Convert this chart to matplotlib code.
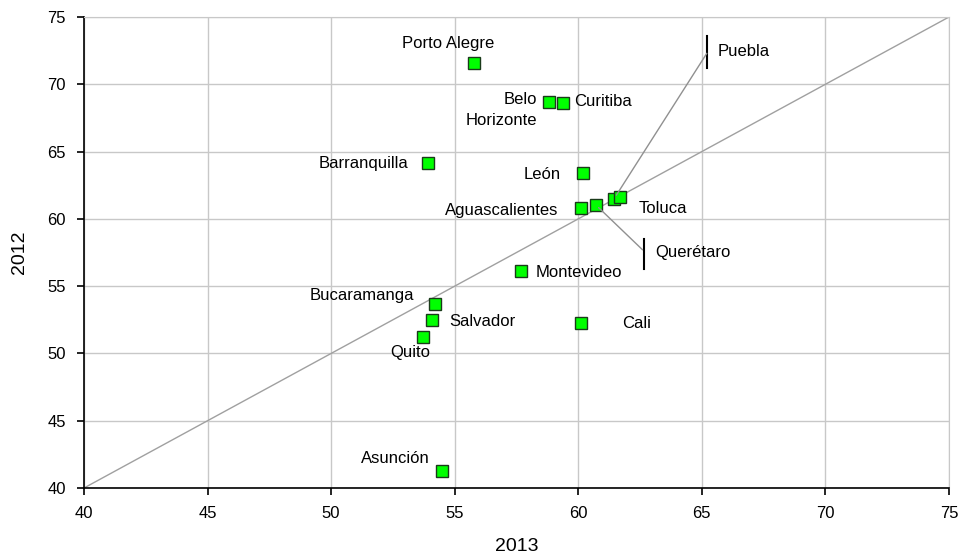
import matplotlib.pyplot as plt

plt.rcParams['font.family'] = ['Liberation Sans', 'DejaVu Sans']

# data
cities = ['Porto Alegre', 'Belo\nHorizonte', 'Curitiba', 'Barranquilla', 'León',
          'Aguascalientes', 'Querétaro', 'Puebla', 'Toluca', 'Montevideo',
          'Bucaramanga', 'Salvador', 'Quito', 'Cali', 'Asunción']
x2013 = [55.8, 58.8, 59.4, 53.9, 60.2, 60.1, 60.7, 61.45, 61.7, 57.7,
         54.2, 54.1, 53.7, 60.1, 54.5]
y2012 = [71.6, 68.7, 68.6, 64.15, 63.4, 60.8, 61.05, 61.5, 61.6, 56.1,
         53.7, 52.5, 51.2, 52.25, 41.3]

# label offsets in points (dx, dy, ha, va)
offsets = {
    'Porto Alegre': (-19, 14, 'center', 'center'),
    'Belo\nHorizonte': (-8, 7, 'right', 'top'),
    'Curitiba': (8, 1, 'left', 'center'),
    'Barranquilla': (-14, 0, 'right', 'center'),
    'León': (-16, -1, 'right', 'center'),
    'Aguascalientes': (-16, -2, 'right', 'center'),
    'Toluca': (13, -8, 'left', 'center'),
    'Montevideo': (10, -1, 'left', 'center'),
    'Bucaramanga': (-15, 6, 'right', 'center'),
    'Salvador': (12, -1, 'left', 'center'),
    'Quito': (-9, -11, 'center', 'center'),
    'Cali': (30, 0, 'left', 'center'),
    'Asunción': (-9, 9, 'right', 'center'),
}

fs = 12

fig = plt.figure(figsize=(9.62, 5.55), dpi=100)
ax = fig.add_axes([0.0873, 0.1207, 0.8992, 0.8487])

ax.set_xlim(40, 75)
ax.set_ylim(40, 75)
ax.set_xticks(range(40, 76, 5))
ax.set_yticks(range(40, 76, 5))
ax.grid(True, color='#c8c8c8', lw=1)
ax.set_axisbelow(True)
for s in ['top', 'right']:
    ax.spines[s].set_color('#c8c8c8')
for s in ['left', 'bottom']:
    ax.spines[s].set_color('black')
    ax.spines[s].set_linewidth(1.2)
ax.tick_params(direction='out', length=5, width=1.2, labelsize=12, pad=8, colors='black')
ax.set_xlabel('2013', fontsize=14, labelpad=12)
ax.set_ylabel('2012', fontsize=14, labelpad=14)

# 45 degree line
ax.plot([40, 75], [40, 75], color='#a0a0a0', lw=1, zorder=1)

ax.plot(x2013, y2012, 's', ms=8.5, mfc='#00ff00', mec='#1a3a1a', mew=1, zorder=3)

for name, x, y in zip(cities, x2013, y2012):
    if name in offsets:
        dx, dy, ha, va = offsets[name]
        ax.annotate(name, (x, y), xytext=(dx, dy), textcoords='offset points',
                    ha=ha, va=va, fontsize=fs, linespacing=1.5, zorder=4)

# leader lines for the crowded cluster
i = cities.index('Puebla')
ax.annotate('', xy=(x2013[i], y2012[i]), xytext=(65.2, 72.3),
            arrowprops=dict(arrowstyle='-', color='#909090', lw=1, shrinkA=0, shrinkB=3))
ax.plot([65.2, 65.2], [71.2, 73.6], color='black', lw=1.5)
ax.text(65.65, 72.4, 'Puebla', fontsize=fs, va='center')

i = cities.index('Querétaro')
ax.annotate('', xy=(x2013[i], y2012[i]), xytext=(62.6, 57.7),
            arrowprops=dict(arrowstyle='-', color='#909090', lw=1, shrinkA=0, shrinkB=3))
ax.plot([62.65, 62.65], [56.3, 58.5], color='black', lw=1.5)
ax.text(63.1, 57.5, 'Querétaro', fontsize=fs, va='center')

fig.savefig('out.png', dpi=100)
